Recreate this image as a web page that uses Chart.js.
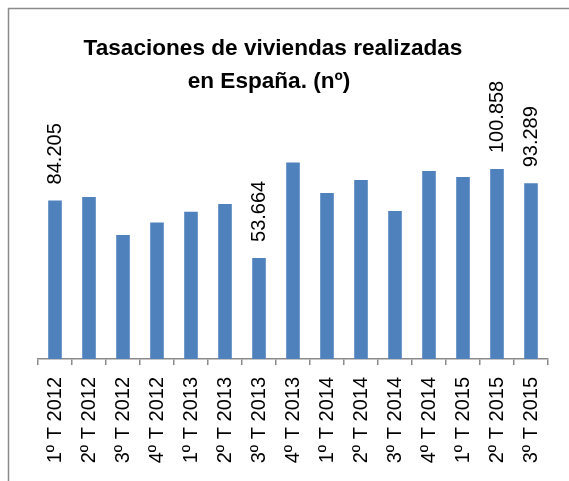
<!DOCTYPE html>
<html>
<head>
<meta charset="utf-8">
<script src="https://cdn.jsdelivr.net/npm/chart.js@4"></script>
<style>
  body { margin: 0; background: #fff; }
  canvas { display: block; }
</style>
</head>
<body>
<canvas id="barChart" width="569" height="481"></canvas>
<script>
const tituloLineas = ["Tasaciones de viviendas realizadas", "en España. (nº)"];
const trimestres = ["1º T 2012", "2º T 2012", "3º T 2012", "4º T 2012",
                    "1º T 2013", "2º T 2013", "3º T 2013", "4º T 2013",
                    "1º T 2014", "2º T 2014", "3º T 2014", "4º T 2014",
                    "1º T 2015", "2º T 2015", "3º T 2015"];
const tasaciones = [84205, 86000, 65800, 72500, 78200, 82300, 53664, 104400,
                    88100, 95000, 78600, 99800, 96600, 100858, 93289];
// solo algunas barras llevan etiqueta
const conEtiqueta = [0, 6, 13, 14];

const fuente = "'Liberation Sans', Arial, sans-serif";

// marco y titulo
const marcoTitulo = {
    id: "marcoTitulo",
    beforeDraw(chart) {
        const c = chart.ctx;
        c.save();
        c.fillStyle = "#fff";
        c.fillRect(0, 0, chart.width, chart.height);
        c.strokeStyle = "#8a8a8a";
        c.lineWidth = 1.5;
        c.beginPath();
        c.moveTo(8.5, chart.height);
        c.lineTo(8.5, 8.5);
        c.lineTo(chart.width, 8.5);
        c.stroke();
        c.fillStyle = "#000";
        c.font = "bold 22.6px " + fuente;
        c.textAlign = "center";
        c.textBaseline = "alphabetic";
        c.fillText(tituloLineas[0], 273, 55);
        c.fillText(tituloLineas[1], 269, 88);
        c.restore();
    }
};

// etiquetas de datos verticales
const etiquetas = {
    id: "etiquetas",
    afterDatasetsDraw(chart) {
        const c = chart.ctx;
        const barras = chart.getDatasetMeta(0).data;
        c.save();
        c.fillStyle = "#000";
        c.font = "20px " + fuente;
        c.textAlign = "left";
        c.textBaseline = "middle";
        conEtiqueta.forEach((i) => {
            const b = barras[i];
            c.save();
            c.translate(b.x, b.y - 16);
            c.rotate(-Math.PI / 2);
            c.fillText(tasaciones[i].toLocaleString("de-DE"), 0, 0);
            c.restore();
        });
        c.restore();
    }
};

new Chart(document.getElementById("barChart").getContext("2d"), {
    type: "bar",
    data: {
        labels: trimestres,
        datasets: [{
            data: tasaciones,
            backgroundColor: "#4f81bd",
            borderWidth: 0,
            barPercentage: 0.4,
            categoryPercentage: 1.0,
        }],
    },
    options: {
        responsive: false,
        animation: false,
        layout: { padding: { left: 38, right: 21, top: 133, bottom: 0 } },
        plugins: {
            legend: { display: false },
            title: { display: false },
            tooltip: { enabled: false },
        },
        scales: {
            x: {
                afterFit(scale) { scale.height = 122; },
                grid: {
                    display: true,
                    drawOnChartArea: false,
                    drawTicks: true,
                    tickLength: 6,
                    color: "#8a8a8a",
                    lineWidth: 1.5,
                },
                border: { display: true, color: "#8a8a8a", width: 1.5 },
                ticks: {
                    color: "#000",
                    font: { family: fuente, size: 20 },
                    minRotation: 90,
                    maxRotation: 90,
                    autoSkip: false,
                    padding: 12,
                },
            },
            y: {
                display: false,
                min: 0,
                max: 120000,
            },
        },
    },
    plugins: [marcoTitulo, etiquetas],
});
</script>
</body>
</html>
